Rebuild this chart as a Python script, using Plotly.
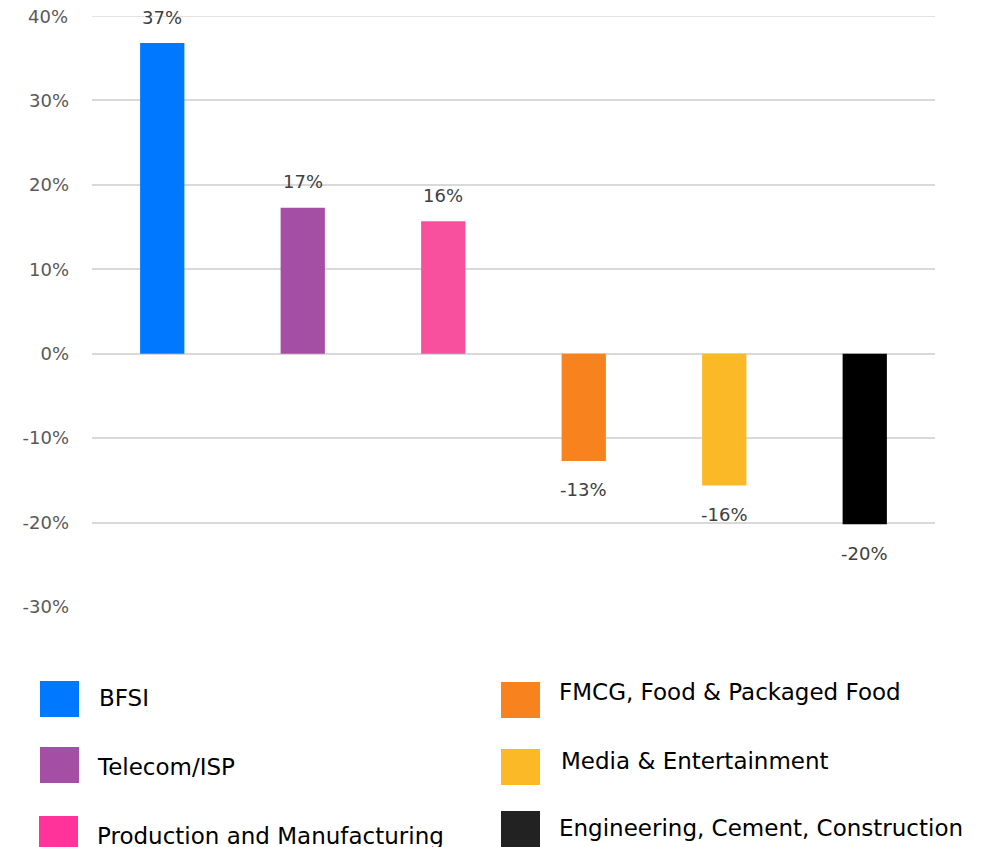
import plotly.graph_objects as go

categories = ["BFSI", "Telecom/ISP", "Production and Manufacturing",
              "FMCG, Food & Packaged Food", "Media & Entertainment",
              "Engineering, Cement, Construction"]
values = [36.8, 17.3, 15.7, -12.7, -15.6, -20.2]
labels = ["37%", "17%", "16%", "-13%", "-16%", "-20%"]
colors = ["#0078FF", "#A44FA3", "#F94F9F", "#F7821E", "#FBB827", "#000000"]
legend_colors = ["#0078FF", "#A44FA3", "#FF3399", "#F7821E", "#FBB827", "#222222"]
tick_vals = [-30, -20, -10, 0, 10, 20, 30, 40]
tick_text = ["-30%", "-20%", "-10%", "0%", "10%", "20%", "30%", "40%"]

OFF = 8  # page body margin
W, H = 989 - OFF, 847 - OFF
ML, MR, MT, MB = 92 - OFF, 54, 16 - OFF, 240
PW, PH = W - ML - MR, H - MT - MB

def px_x(x):
    return (x - OFF - ML) / PW

def px_y(y):
    return (H - MB - (y - OFF)) / PH

fig = go.Figure()
fig.add_trace(go.Bar(
    x=categories, y=values, marker=dict(color=colors, line=dict(width=0)),
    width=0.315, showlegend=False, hoverinfo="x+y"))

annotations = []
for c, v, t in zip(categories, values, labels):
    annotations.append(dict(
        x=c, y=v, xref="x", yref="y", text=t, showarrow=False,
        yshift=26 if v >= 0 else -29,
        font=dict(family="DejaVu Sans", size=18, color="#404040")))

# top tick label (at the very edge of the plot) drawn as annotation
annotations.append(dict(
    x=0, y=tick_vals[-1], xref="paper", yref="y", text=tick_text[-1],
    showarrow=False, xanchor="right", yanchor="middle", xshift=-22,
    font=dict(family="DejaVu Sans", size=18, color="#595959")))

# custom legend: two columns
legend_pos = [
    (40, 681, 97, 698), (40, 747, 95, 767), (39, 816, 95, 836),
    (501, 682, 557, 692), (501, 749, 559, 761), (501, 811, 557, 828),
]
shapes = []
for (sx, sy, tx, ty), col, name in zip(legend_pos, legend_colors, categories):
    shapes.append(dict(type="rect", xref="paper", yref="paper",
                       x0=px_x(sx), x1=px_x(sx + 39), y0=px_y(sy), y1=px_y(sy + 36),
                       fillcolor=col, line=dict(width=0)))
    annotations.append(dict(x=px_x(tx), y=px_y(ty), xref="paper", yref="paper",
                            text=name, showarrow=False, xanchor="left", yanchor="middle",
                            font=dict(family="DejaVu Sans", size=23, color="#000000")))

fig.update_layout(
    width=W, height=H,
    margin=dict(l=ML, r=MR, t=MT, b=MB, autoexpand=False),
    plot_bgcolor="white", paper_bgcolor="white",
    xaxis=dict(showticklabels=False, showgrid=False, zeroline=False,
               showline=False, range=[-0.5, 5.5], automargin=False),
    yaxis=dict(range=[-30, 40], tickvals=tick_vals[:-1], ticktext=tick_text[:-1],
               showgrid=True, gridcolor="#D9D9D9", gridwidth=1.5,
               zeroline=True, zerolinecolor="#D9D9D9", zerolinewidth=1.5,
               showline=False, ticks="", ticklabelstandoff=22, automargin=False,
               tickfont=dict(family="DejaVu Sans", size=18, color="#595959")),
    shapes=shapes + [dict(type="line", xref="paper", yref="y", x0=0, x1=1,
                          y0=tick_vals[-1], y1=tick_vals[-1],
                          line=dict(color="#D9D9D9", width=1.5), layer="below")],
    annotations=annotations,
)

fig.write_html("out.html")
